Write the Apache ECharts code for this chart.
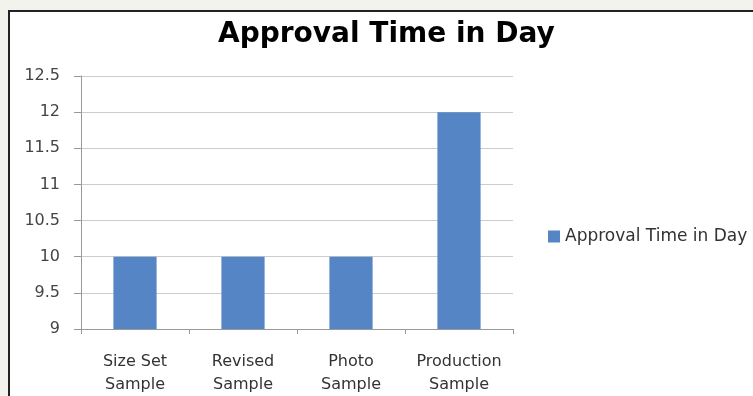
<!DOCTYPE html>
<html>
<head>
<meta charset="utf-8">
<script src="https://cdn.jsdelivr.net/npm/echarts@6/dist/echarts.min.js"></script>
<style>
  html, body { margin: 0; padding: 0; background: #f3f3ee; }
  #frame { position: absolute; left: 8px; top: 10px; width: 745px; height: 386px;
           background: #fff; border-left: 2px solid #222; border-top: 2px solid #222; }
  #chart { position: absolute; left: 0; top: 0; width: 753px; height: 396px; }
</style>
</head>
<body>
<div id="frame"></div>
<div id="chart"></div>
<script>
var categories = ['Size Set\nSample', 'Revised\nSample', 'Photo\nSample', 'Production\nSample'];
var approvalDays = [10, 10, 10, 12];
var seriesName = 'Approval Time in Day';
var titleText = 'Approval Time in Day';

var chart = echarts.init(document.getElementById('chart'), null, { renderer: 'canvas' });

var font = '"DejaVu Sans", sans-serif';

var option = {
  animation: false,
  backgroundColor: 'transparent',
  title: {
    text: titleText,
    left: 213,
    top: 16,
    textStyle: { fontFamily: font, fontSize: 28, fontWeight: 'bold', color: '#000' }
  },
  legend: {
    data: [{ name: seriesName, icon: 'rect' }],
    orient: 'vertical',
    left: 543,
    top: 223,
    itemWidth: 12,
    itemHeight: 12,
    itemGap: 6,
    textStyle: { fontFamily: font, fontSize: 17, color: '#333' }
  },
  grid: { left: 81, right: 240, top: 76, bottom: 67 },
  xAxis: {
    type: 'category',
    data: categories,
    axisLine: { lineStyle: { color: '#999' } },
    axisTick: { show: true, interval: 0, length: 5, lineStyle: { color: '#999' } },
    axisLabel: { interval: 0, margin: 21, fontFamily: font, fontSize: 16, lineHeight: 23, color: '#333' }
  },
  yAxis: {
    type: 'value',
    min: 9,
    max: 12.5,
    interval: 0.5,
    axisLine: { show: true, lineStyle: { color: '#999' } },
    axisTick: { show: true, length: 7, lineStyle: { color: '#999' } },
    axisLabel: { margin: 21, fontFamily: font, fontSize: 16, color: '#444' },
    splitLine: { lineStyle: { color: '#ccc' } }
  },
  series: [{
    name: seriesName,
    type: 'bar',
    data: approvalDays,
    barWidth: '40%',
    itemStyle: { color: '#5585c5' }
  }]
};
chart.setOption(option);
</script>
</body>
</html>
